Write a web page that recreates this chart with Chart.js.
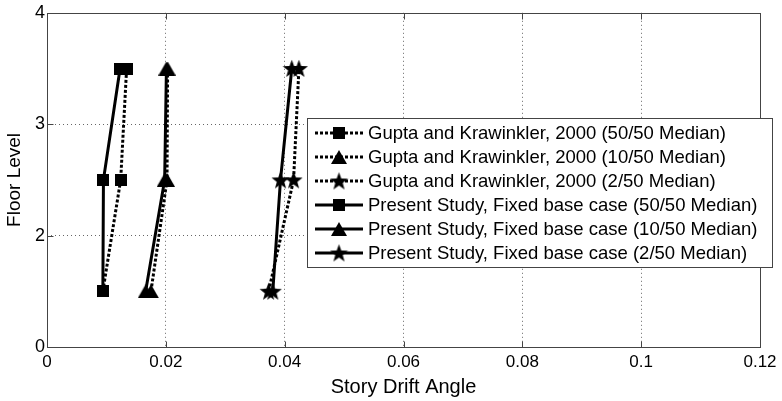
<!DOCTYPE html>
<html>
<head>
<meta charset="utf-8">
<script src="https://cdn.jsdelivr.net/npm/chart.js@4.4.1/dist/chart.umd.min.js"></script>
<style>
html, body { margin: 0; padding: 0; background: #fff; }
canvas { display: block; }
</style>
</head>
<body>
<canvas id="drift" width="782" height="401"></canvas>
<script>
// floor level of each point (y) and story drift angle (x)
var floors = [1.5, 2.5, 3.5];
var gupta50 = [0.0094, 0.0124, 0.0134];
var gupta10 = [0.0175, 0.0202, 0.0203];
var gupta2 = [0.0373, 0.0415, 0.0424];
var present50 = [0.0094, 0.0095, 0.0123];
var present10 = [0.0166, 0.0198, 0.0201];
var present2 = [0.0380, 0.0393, 0.0412];

var seriesLabels = [
	"Gupta and Krawinkler, 2000 (50/50 Median)",
	"Gupta and Krawinkler, 2000 (10/50 Median)",
	"Gupta and Krawinkler, 2000 (2/50 Median)",
	"Present Study, Fixed base case (50/50 Median)",
	"Present Study, Fixed base case (10/50 Median)",
	"Present Study, Fixed base case (2/50 Median)"
];
var xTickLabels = ["0", "0.02", "0.04", "0.06", "0.08", "0.1", "0.12"];
var yTickLabels = ["0", "2", "3", "4"];

var fontName = "'Liberation Sans', Arial, sans-serif";

function makeMarker(shape){
	var c = document.createElement('canvas');
	var g;
	if(shape == 'square'){
		c.width = 12; c.height = 12;
		g = c.getContext('2d');
		g.fillStyle = '#000';
		g.fillRect(0, 0, 12, 12);
	} else if(shape == 'triangle'){
		c.width = 16; c.height = 14;
		g = c.getContext('2d');
		g.fillStyle = '#000';
		g.beginPath();
		g.moveTo(8, 0);
		g.lineTo(16, 14);
		g.lineTo(0, 14);
		g.closePath();
		g.fill();
	} else {
		c.width = 19; c.height = 19;
		g = c.getContext('2d');
		g.fillStyle = '#000';
		g.beginPath();
		for(var k = 0; k < 10; k++){
			var r = (k % 2 == 0) ? 9.5 : 3.9;
			var a = -Math.PI / 2 + k * Math.PI / 5;
			var px = 9.5 + r * Math.cos(a);
			var py = 10.2 + r * Math.sin(a);
			if(k == 0) g.moveTo(px, py); else g.lineTo(px, py);
		}
		g.closePath();
		g.fill();
	}
	return c;
}

var markers = {
	square: makeMarker('square'),
	triangle: makeMarker('triangle'),
	star: makeMarker('star')
};

function points(xs){
	var out = [];
	for(var i = 0; i < xs.length; i++){
		out.push({x: xs[i], y: floors[i]});
	}
	return out;
}

function series(label, xs, marker, dotted){
	return {
		label: label,
		data: points(xs),
		showLine: true,
		borderColor: '#000',
		backgroundColor: '#000',
		borderWidth: 3,
		borderDash: dotted ? [3, 2] : [],
		pointStyle: markers[marker],
		pointRadius: 8,
		pointHoverRadius: 8,
		fill: false
	};
}

// box round the plot with inward tick marks
var boxPlugin = {
	id: 'box',
	afterDatasetsDraw: function(chart){
		var ctx = chart.ctx;
		var a = chart.chartArea;
		var l = Math.round(a.left) + 0.5, r = Math.round(a.right) + 0.5;
		var t = Math.round(a.top) + 0.5, b = Math.round(a.bottom) + 0.5;
		ctx.save();
		ctx.strokeStyle = '#444';
		ctx.lineWidth = 1;
		ctx.setLineDash([]);
		ctx.strokeRect(l, t, r - l, b - t);
		ctx.beginPath();
		chart.scales.x.ticks.forEach(function(tk){
			var px = Math.round(chart.scales.x.getPixelForValue(tk.value)) + 0.5;
			ctx.moveTo(px, b); ctx.lineTo(px, b - 6);
			ctx.moveTo(px, t); ctx.lineTo(px, t + 6);
		});
		chart.scales.y.ticks.forEach(function(tk){
			var py = Math.round(chart.scales.y.getPixelForValue(tk.value)) + 0.5;
			ctx.moveTo(l, py); ctx.lineTo(l + 6, py);
			ctx.moveTo(r, py); ctx.lineTo(r - 6, py);
		});
		ctx.stroke();
		ctx.restore();
	}
};

// legend box drawn inside the plot, like the original figure
var legendPlugin = {
	id: 'insideLegend',
	afterDraw: function(chart){
		var ctx = chart.ctx;
		var left = 307, top = 118, right = 772, bottom = 267;
		ctx.save();
		ctx.fillStyle = '#fff';
		ctx.fillRect(left, top, right - left, bottom - top);
		ctx.strokeStyle = '#444';
		ctx.lineWidth = 1;
		ctx.strokeRect(left + 0.5, top + 0.5, right - left, bottom - top);
		chart.data.datasets.forEach(function(ds, i){
			var y = 133 + 24 * i;
			ctx.strokeStyle = '#000';
			ctx.lineWidth = 3;
			ctx.setLineDash(ds.borderDash);
			ctx.beginPath();
			ctx.moveTo(315, y);
			ctx.lineTo(363, y);
			ctx.stroke();
			var m = ds.pointStyle;
			ctx.drawImage(m, 339 - m.width / 2, y - m.height / 2);
			ctx.setLineDash([]);
			ctx.fillStyle = '#000';
			ctx.font = '18.5px ' + fontName;
			ctx.textBaseline = 'middle';
			ctx.textAlign = 'left';
			ctx.fillText(ds.label, 368, y + 1);
		});
		ctx.restore();
	}
};

var chart = new Chart(document.getElementById('drift'), {
	type: 'scatter',
	data: {
		datasets: [
			series(seriesLabels[0], gupta50, 'square', true),
			series(seriesLabels[1], gupta10, 'triangle', true),
			series(seriesLabels[2], gupta2, 'star', true),
			series(seriesLabels[3], present50, 'square', false),
			series(seriesLabels[4], present10, 'triangle', false),
			series(seriesLabels[5], present2, 'star', false)
		]
	},
	options: {
		responsive: false,
		animation: false,
		layout: {
			padding: {top: 11, right: 22, left: 0, bottom: 0}
		},
		plugins: {
			legend: {display: false},
			tooltip: {enabled: false}
		},
		scales: {
			x: {
				type: 'linear',
				min: 0,
				max: 0.12,
				afterFit: function(s){ s.height = 54; },
				ticks: {
					stepSize: 0.02,
					color: '#000',
					padding: 5,
					maxRotation: 0,
					font: {family: fontName, size: 17},
					callback: function(v, i){ return xTickLabels[i]; }
				},
				grid: {
					drawTicks: false,
					lineWidth: 1,
					color: function(c){
						return (c.index == 0 || c.index == xTickLabels.length - 1) ? 'rgba(0,0,0,0)' : '#666';
					}
				},
				border: {display: false, dash: [1, 3]},
				title: {
					display: true,
					text: 'Story Drift Angle',
					color: '#000',
					font: {family: fontName, size: 20},
					padding: {top: 0, bottom: 2}
				}
			},
			y: {
				type: 'linear',
				min: 1,
				max: 4,
				afterFit: function(s){ s.width = 47; },
				ticks: {
					stepSize: 1,
					color: '#000',
					padding: 2,
					font: {family: fontName, size: 18},
					callback: function(v, i){ return yTickLabels[i]; }
				},
				grid: {
					drawTicks: false,
					lineWidth: 1,
					color: function(c){
						return (c.index == 0 || c.index == yTickLabels.length - 1) ? 'rgba(0,0,0,0)' : '#666';
					}
				},
				border: {display: false, dash: [1, 3]},
				title: {
					display: true,
					text: 'Floor Level',
					color: '#000',
					font: {family: fontName, size: 19},
					padding: {top: 3, bottom: 0}
				}
			}
		}
	},
	plugins: [boxPlugin, legendPlugin]
});
</script>
</body>
</html>
